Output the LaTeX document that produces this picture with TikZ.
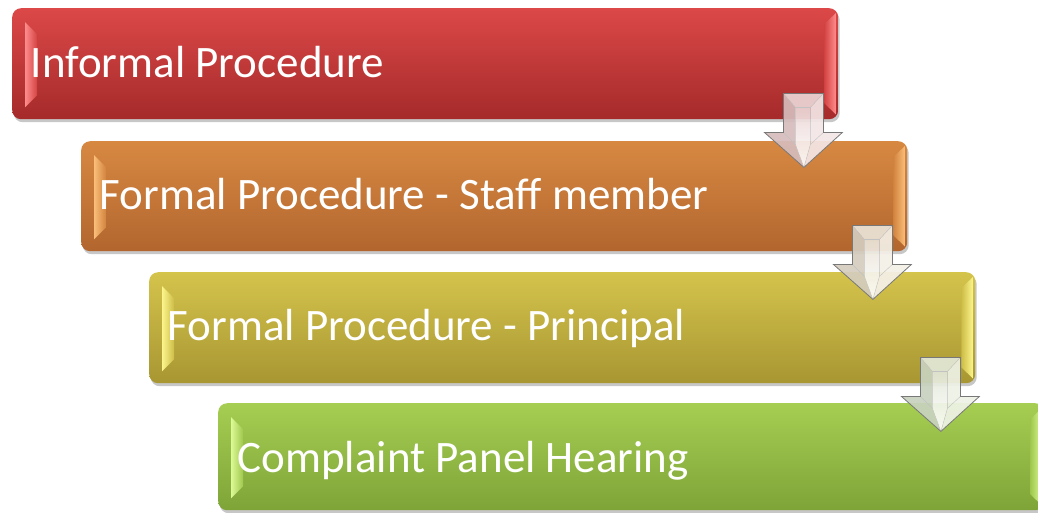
\documentclass[tikz,border=0pt]{standalone}
\usepackage{fontspec}
\setmainfont{Carlito}
\usetikzlibrary{calc,shadows}

\definecolor{redTop}{RGB}{220,72,72}
\definecolor{redBot}{RGB}{165,42,42}
\definecolor{redLight}{RGB}{255,140,140}
\definecolor{orTop}{RGB}{215,137,66}
\definecolor{orBot}{RGB}{178,102,46}
\definecolor{orLight}{RGB}{250,190,120}
\definecolor{olTop}{RGB}{212,196,76}
\definecolor{olBot}{RGB}{168,150,50}
\definecolor{olLight}{RGB}{252,245,140}
\definecolor{grTop}{RGB}{166,206,82}
\definecolor{grBot}{RGB}{126,164,56}
\definecolor{grLight}{RGB}{220,250,150}
\definecolor{arrowEdge}{RGB}{120,120,120}
\definecolor{aOneL}{RGB}{214,188,188}
\definecolor{aOneT}{RGB}{236,214,214}
\definecolor{aOneR}{RGB}{244,230,230}
\definecolor{aTwoL}{RGB}{212,204,190}
\definecolor{aTwoT}{RGB}{234,228,216}
\definecolor{aTwoR}{RGB}{244,240,232}
\definecolor{aThrL}{RGB}{200,210,190}
\definecolor{aThrT}{RGB}{226,232,216}
\definecolor{aThrR}{RGB}{238,242,230}

\tikzset{
  stagebox/.style={rounded corners=9pt, minimum width=826pt, minimum height=111pt,
    anchor=north west, inner sep=0pt,
    drop shadow={shadow xshift=1.5pt, shadow yshift=-3pt, opacity=0.22, fill=black}},
  stagelabel/.style={anchor=base west, text=white, inner sep=0pt,
    font=\fontsize{45}{54}\selectfont},
  arrowline/.style={draw=arrowEdge, line width=0.8pt, line join=miter},
  arrowinner/.style={draw=arrowEdge!45, line width=0.4pt},
}

\newcommand{\boxbevel}[3]{%
  \shade[left color=#2, right color=#3]
    ($(#1.north west)+(13,14)$) -- ($(#1.north west)+(25,26)$) --
    ($(#1.south west)+(25,-24)$) -- ($(#1.south west)+(13,-12)$) -- cycle;
  \shade[left color=#3, right color=#2]
    ($(#1.north east)+(-14,16)$) -- ($(#1.north east)+(-2.5,5)$) --
    ($(#1.south east)+(-2.5,-5)$) -- ($(#1.south east)+(-14,-16)$) -- cycle;
}

\newcommand{\stagearrow}[4]{%
  \begin{scope}[shift={(#1.south east)}, fill opacity=0.92]
    \fill[#2] (-55,-26) -- (-43,-12) -- (-43,25) -- (-34.5,48) -- (-74,13) -- (-55,13) -- cycle;
    \fill[#4] (-15,-26) -- (-28,-12) -- (-28,25) -- (-34.5,48) -- (4,13) -- (-15,13) -- cycle;
    \shade[top color=#3, bottom color=white] (-43,-12) -- (-28,-12) -- (-28,25) -- (-34.5,48) -- (-43,25) -- cycle;
    \fill[#3] (-55,-26) -- (-15,-26) -- (-28,-12) -- (-43,-12) -- cycle;
    \draw[arrowinner] (-55,-26) -- (-43,-12) -- (-43,25) -- (-34.5,48);
    \draw[arrowinner] (-15,-26) -- (-28,-12) -- (-28,25) -- (-34.5,48);
    \draw[arrowinner] (-43,-12) -- (-28,-12);
    \draw[arrowinner] (-55,13) -- (-43,25);
    \draw[arrowinner] (-15,13) -- (-28,25);
    \draw[arrowline] (-55,-26) -- (-15,-26) -- (-15,13) -- (4,13) -- (-34.5,48) -- (-74,13) -- (-55,13) -- cycle;
  \end{scope}
}

\begin{document}
\begin{tikzpicture}[x=1pt, y=-1pt]
  \useasboundingbox (0,0) rectangle (1038,512);
  \clip (0,0) rectangle (1038,512);
  \fill[white] (0,0) rectangle (1038,512);

  \node[stagebox, top color=redTop, bottom color=redBot, minimum height=111pt] (b1) at (12,8) {};
  \boxbevel{b1}{redLight}{redTop!85!redBot}
  \node[stagelabel] (t1) at ($(b1.north west)+(18.5,69)$) {Informal Procedure};

  \node[stagebox, top color=orTop, bottom color=orBot, minimum height=110pt] (b2) at (81,141) {};
  \boxbevel{b2}{orLight}{orTop!85!orBot}
  \node[stagelabel] (t2) at ($(b2.north west)+(18.5,68)$) {Formal Procedure - Staff member};

  \node[stagebox, top color=olTop, bottom color=olBot, minimum height=111pt] (b3) at (149,272) {};
  \boxbevel{b3}{olLight}{olTop!85!olBot}
  \node[stagelabel] (t3) at ($(b3.north west)+(18.5,68)$) {Formal Procedure - Principal};

  \node[stagebox, top color=grTop, bottom color=grBot, minimum height=107pt] (b4) at (218,403) {};
  \boxbevel{b4}{grLight}{grTop!85!grBot}
  \node[stagelabel] (t4) at ($(b4.north west)+(19.5,69)$) {Complaint Panel Hearing};

  \stagearrow{b1}{aOneL}{aOneT}{aOneR}
  \stagearrow{b2}{aTwoL}{aTwoT}{aTwoR}
  \stagearrow{b3}{aThrL}{aThrT}{aThrR}
\end{tikzpicture}
\end{document}
